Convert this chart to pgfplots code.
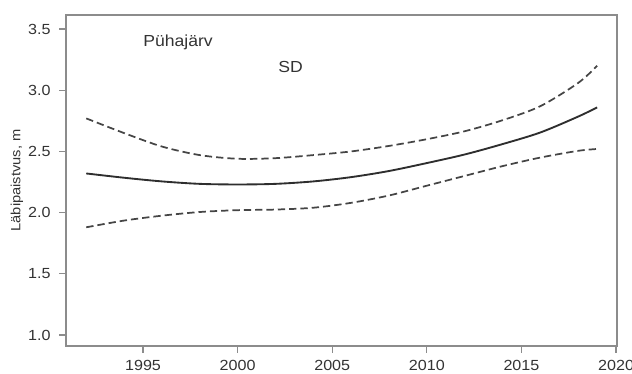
\documentclass[border=0pt]{standalone}
\usepackage{pgfplots}
\pgfplotsset{compat=1.18}
\usepackage{fontspec}
\setmainfont[FakeStretch=1.1]{Liberation Sans}
\definecolor{axisgray}{HTML}{8C8C8C}
\definecolor{labelgray}{HTML}{333333}
\definecolor{curve}{HTML}{2E2E2E}
\definecolor{band}{HTML}{454545}

\begin{document}
\begin{tikzpicture}
\begin{axis}[
  scale only axis,
  width=413.25pt, height=248.25pt,
  xmin=1990.93, xmax=2020.05,
  ymin=0.91, ymax=3.615,
  xtick={1995,2000,2005,2010,2015,2020},
  ytick={1.0,1.5,2.0,2.5,3.0,3.5},
  xticklabels={1995,2000,2005,2010,2015,2020},
  yticklabels={1.0,1.5,2.0,2.5,3.0,3.5},
  xtick pos=bottom, ytick pos=left,
  tick align=outside,
  major tick length=5pt,
  axis line style={axisgray, line width=0.9pt},
  every tick/.style={axisgray, line width=0.9pt},
  xticklabel style={font=\fontsize{11}{12}\selectfont, text=labelgray, yshift=-2.5pt},
  yticklabel style={font=\fontsize{11}{12}\selectfont, text=labelgray, xshift=-3pt},
  ylabel={Läbipaistvus, m},
  ylabel style={at={(axis description cs:0,0.5)}, anchor=center, yshift=36.75pt, font=\fontsize{10}{11}\selectfont, text=labelgray},
]
% fitted trend of water transparency
\addplot[curve, line width=1.4pt, smooth] coordinates {
  (1992,2.32) (1994,2.285) (1996,2.255) (1998,2.235) (2000,2.23) (2002,2.235)
  (2004,2.255) (2006,2.29) (2008,2.34) (2010,2.405) (2012,2.475)
  (2014,2.56) (2016,2.655) (2018,2.785) (2019,2.86)
};
% upper SD bound
\addplot[band, line width=1.3pt, dash pattern=on 5.5pt off 3pt, smooth] coordinates {
  (1992,2.77) (1994,2.65) (1996,2.54) (1998,2.47) (2000,2.44) (2002,2.445)
  (2004,2.47) (2006,2.5) (2008,2.545) (2010,2.6) (2012,2.665)
  (2014,2.755) (2016,2.87) (2018,3.06) (2019,3.2)
};
% lower SD bound
\addplot[band, line width=1.3pt, dash pattern=on 5.5pt off 3pt, smooth] coordinates {
  (1992,1.88) (1994,1.935) (1996,1.975) (1998,2.005) (2000,2.02) (2002,2.025)
  (2004,2.04) (2006,2.08) (2008,2.14) (2010,2.22) (2012,2.3)
  (2014,2.38) (2016,2.45) (2018,2.505) (2019,2.52)
};
\node[font=\fontsize{12}{13}\selectfont, text=labelgray] at (axis cs:1996.85,3.39) {Pühajärv};
\node[font=\fontsize{12}{13}\selectfont, text=labelgray] at (axis cs:2002.8,3.19) {SD};
\end{axis}
\pgfresetboundingbox
\path ([shift={(-49.5pt,-21pt)}]current axis.south west) rectangle ([shift={(11.25pt,11.25pt)}]current axis.north east);
\end{tikzpicture}
\end{document}
